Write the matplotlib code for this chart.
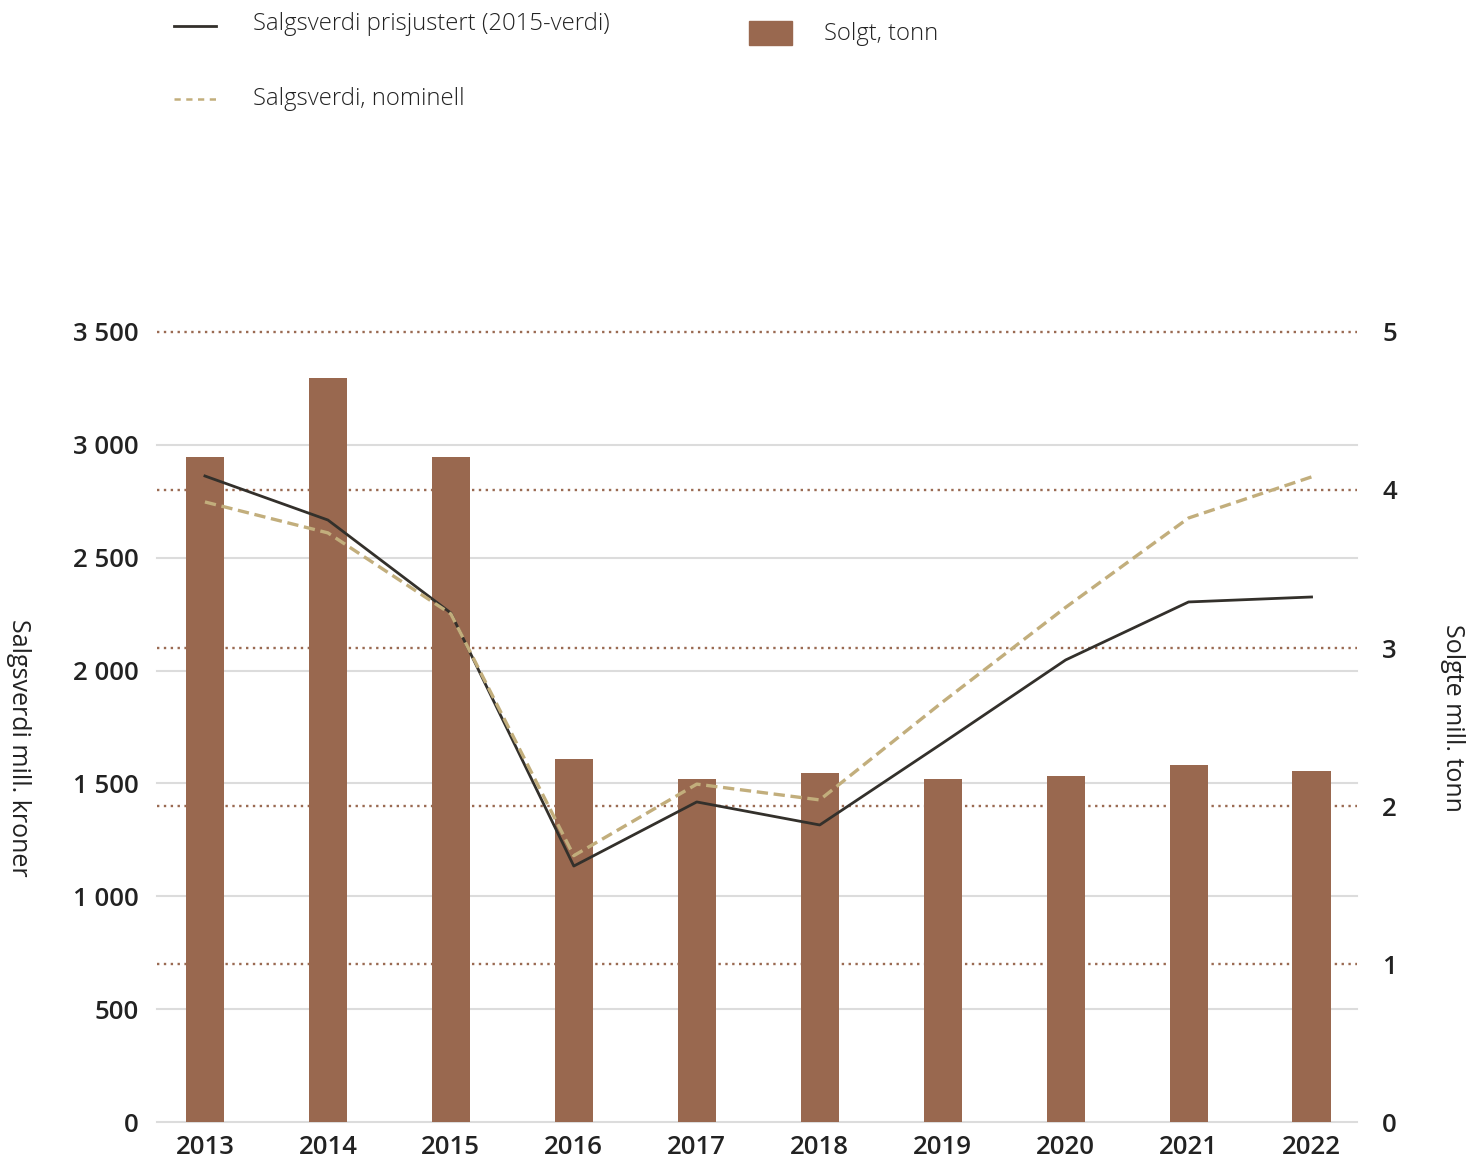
import matplotlib
matplotlib.use("Agg")
import matplotlib.pyplot as plt
from matplotlib.lines import Line2D
from matplotlib.patches import Rectangle

# data
years = ["2013", "2014", "2015", "2016", "2017", "2018", "2019", "2020", "2021", "2022"]
solgt_tonn = [4.21, 4.71, 4.21, 2.30, 2.17, 2.21, 2.17, 2.19, 2.26, 2.22]
verdi_prisjustert = [2862, 2667, 2255, 1134, 1418, 1316, 1679, 2047, 2304, 2326]
verdi_nominell = [2747, 2610, 2251, 1180, 1497, 1427, 1861, 2280, 2676, 2858]

left_ticks = [0, 500, 1000, 1500, 2000, 2500, 3000, 3500]
right_ticks = [0, 1, 2, 3, 4, 5]

bar_color = "#99684f"
solid_color = "#33302b"
dash_color = "#c2ae7c"
grid_gray = "#dcdcdc"
dot_brown = "#9a6a52"
text_color = "#222222"

plt.rcParams["font.family"] = ["Open Sans", "DejaVu Sans"]

fig = plt.figure(figsize=(14.81, 11.62), dpi=100)
pos = [0.106, 0.0344, 0.8103, 0.6799]

x = list(range(len(years)))

# bottom axes: left scale, gray grid
ax = fig.add_axes(pos)
ax.set_ylim(0, 3500)
ax.set_xlim(-0.39, 9.37)
ax.set_yticks(left_ticks)
ax.set_yticklabels([f"{v:,}".replace(",", " ") for v in left_ticks],
                   fontsize=18.5, fontweight="semibold", color=text_color)
ax.grid(axis="y", color=grid_gray, linewidth=1.5)
for gl in ax.yaxis.get_gridlines():
    gl.set_clip_on(False)
ax.yaxis.get_gridlines()[-1].set_visible(False)
ax.tick_params(axis="y", length=0, pad=13)
ax.set_xticks(x)
ax.set_xticklabels(years, fontsize=18.5, fontweight="semibold", color=text_color)
ax.tick_params(axis="x", length=0, pad=9)
for s in ax.spines.values():
    s.set_visible(False)

# bars on right scale
ax2 = ax.twinx()
ax2.bar(x, solgt_tonn, width=0.31, color=bar_color, zorder=3)
ax2.set_ylim(0, 5)
ax2.set_yticks(right_ticks)
ax2.set_yticklabels([str(v) for v in right_ticks], fontsize=18.5,
                    fontweight="semibold", color=text_color)
ax2.tick_params(axis="y", length=0, pad=18)
ax2.grid(axis="y", color=dot_brown, linewidth=1.7, linestyle=(0, (1, 1.9)))
for gl in ax2.yaxis.get_gridlines():
    gl.set_clip_on(False)
ax2.yaxis.get_gridlines()[0].set_visible(False)
ax2.set_axisbelow(True)
for s in ax2.spines.values():
    s.set_visible(False)

# lines on left scale, on top of bars
ax3 = fig.add_axes(pos, sharex=ax, sharey=ax)
ax3.patch.set_visible(False)
ax3.axis("off")
ax3.plot(x, verdi_prisjustert, color=solid_color, linewidth=2.0)
ax3.plot(x, verdi_nominell, color=dash_color, linewidth=2.4,
         linestyle=(0, (3.4, 1.7)))

# axis titles and legend placed by hand
W, H = 1481, 1162
def fx(px):
    return px / W
def fy(py):
    return 1 - py / H

fig.text(fx(18), fy(748), "Salgsverdi mill. kroner", fontsize=18,
         color=text_color, rotation=270, ha="center", va="center")
fig.text(fx(1452), fy(718), "Solgte mill. tonn", fontsize=18,
         color=text_color, rotation=270, ha="center", va="center")

fig.add_artist(Line2D([fx(174), fx(216)], [fy(26), fy(26)], color=solid_color,
                      linewidth=2.0, transform=fig.transFigure))
fig.add_artist(Line2D([fx(174), fx(216)], [fy(99), fy(99)], color=dash_color,
                      linewidth=1.8, linestyle=(0, (2.5, 2.2)),
                      transform=fig.transFigure))
fig.add_artist(Rectangle((fx(749), fy(45)), fx(792) - fx(749), fy(21) - fy(45),
                         color=bar_color, transform=fig.transFigure))
fig.text(fx(253), fy(24), "Salgsverdi prisjustert (2015-verdi)", fontsize=17.2,
         fontweight="light", color=text_color, va="center", ha="left")
fig.text(fx(253), fy(99), "Salgsverdi, nominell", fontsize=17.2,
         fontweight="light", color=text_color, va="center", ha="left")
fig.text(fx(824), fy(34), "Solgt, tonn", fontsize=17.2,
         fontweight="light", color=text_color, va="center", ha="left")

fig.savefig("out.png", dpi=100)
